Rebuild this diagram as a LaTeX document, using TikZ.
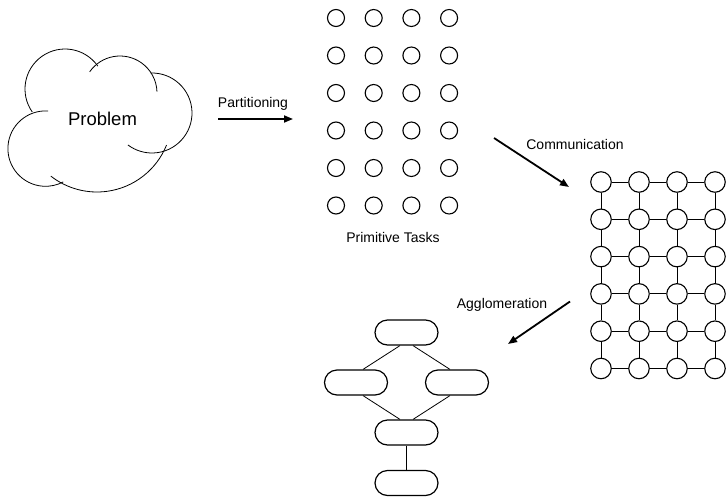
\documentclass[tikz,border=0pt]{standalone}
\usepackage{fontspec}
\setmainfont{Liberation Sans}
\usetikzlibrary{arrows.meta,shapes.misc}
\begin{document}
\begin{tikzpicture}[x=1pt,y=-1pt,
  task/.style={circle,draw,line width=1.1pt,minimum size=17pt,inner sep=0pt},
  meshtask/.style={circle,draw,line width=1.1pt,minimum size=20.5pt,inner sep=0pt},
  pill/.style={rounded rectangle,draw,line width=1.2pt,minimum width=63pt,minimum height=25pt,inner sep=0pt},
  cloudline/.style={line width=0.8pt},
  link/.style={line width=0.8pt},
  meshlink/.style={line width=0.9pt},
  steparrow/.style={line width=1.8pt,-{Triangle[length=9pt,width=7pt]}},
  lbl/.style={font=\fontsize{14}{16}\selectfont,anchor=base,inner sep=0pt},
]
\useasboundingbox (0,0) rectangle (726,496);

% problem cloud, built from five overlapping puffs
\draw[cloudline] ([shift={(145:40)}]65,89) arc[start angle=145,end angle=325,radius=40];
\draw[cloudline] ([shift={(215:37)}]120,93) arc[start angle=215,end angle=358,radius=37];
\draw[cloudline] ([shift={(-92:40)}]152,113) arc[start angle=-92,end angle=127,radius=40];
\draw[cloudline] ([shift={(22:75)}]97,117) arc[start angle=22,end angle=128,radius=75];
\draw[cloudline] ([shift={(274:37.7)}]45.6,148.6) arc[start angle=274,end angle=62,radius=37.7];
\node[font=\fontsize{18.5}{20}\selectfont,anchor=base,inner sep=0pt] (problem) at (102.5,125) {Problem};

% partitioning step
\coordinate (p0) at (218,119);
\coordinate (p1) at (293,119);
\draw[steparrow] (p0) -- (p1);
\node[lbl] (partlbl) at (253,107.5) {Partitioning};

% primitive tasks
\foreach \r in {1,...,6}
  \foreach \c in {1,...,4}
    \node[task] (t-\r-\c) at ({336+37.7*(\c-1)},{18+37.5*(\r-1)}) {};
\node[lbl] (primlbl) at (393,242.5) {Primitive Tasks};

% communication step
\coordinate (c0) at (494,138);
\coordinate (c1) at (569,187);
\draw[steparrow] (c0) -- (c1);
\node[lbl] (commlbl) at (575,149.3) {Communication};

% task mesh with channels
\foreach \r in {1,...,6}
  \foreach \c in {1,...,4}
    \node[meshtask] (m-\r-\c) at ({601+38*(\c-1)},{182+37.3*(\r-1)}) {};
\foreach \r in {1,...,6}
  \foreach \c/\nc in {1/2,2/3,3/4}
    \draw[meshlink] (m-\r-\c) -- (m-\r-\nc);
\foreach \r/\nr in {1/2,2/3,3/4,4/5,5/6}
  \foreach \c in {1,...,4}
    \draw[meshlink] (m-\r-\c) -- (m-\nr-\c);

% agglomeration step
\coordinate (a0) at (570,301.5);
\coordinate (a1) at (508,344);
\draw[steparrow] (a0) -- (a1);
\node[lbl] (agglbl) at (502,308) {Agglomeration};

% agglomerated task graph
\node[pill] (g1) at (406.5,332.5) {};
\node[pill] (g2) at (356,382.5) {};
\node[pill] (g3) at (457,382.5) {};
\node[pill] (g4) at (406.5,432.5) {};
\node[pill] (g5) at (406.5,483) {};
\draw[link] ([xshift=-6.5pt]g1.south) -- ([xshift=7pt]g2.north);
\draw[link] ([xshift=6.5pt]g1.south) -- ([xshift=-7pt]g3.north);
\draw[link] ([xshift=7pt]g2.south) -- ([xshift=-6.5pt]g4.north);
\draw[link] ([xshift=-7pt]g3.south) -- ([xshift=6.5pt]g4.north);
\draw[link] (g4) -- (g5);
\end{tikzpicture}
\end{document}
